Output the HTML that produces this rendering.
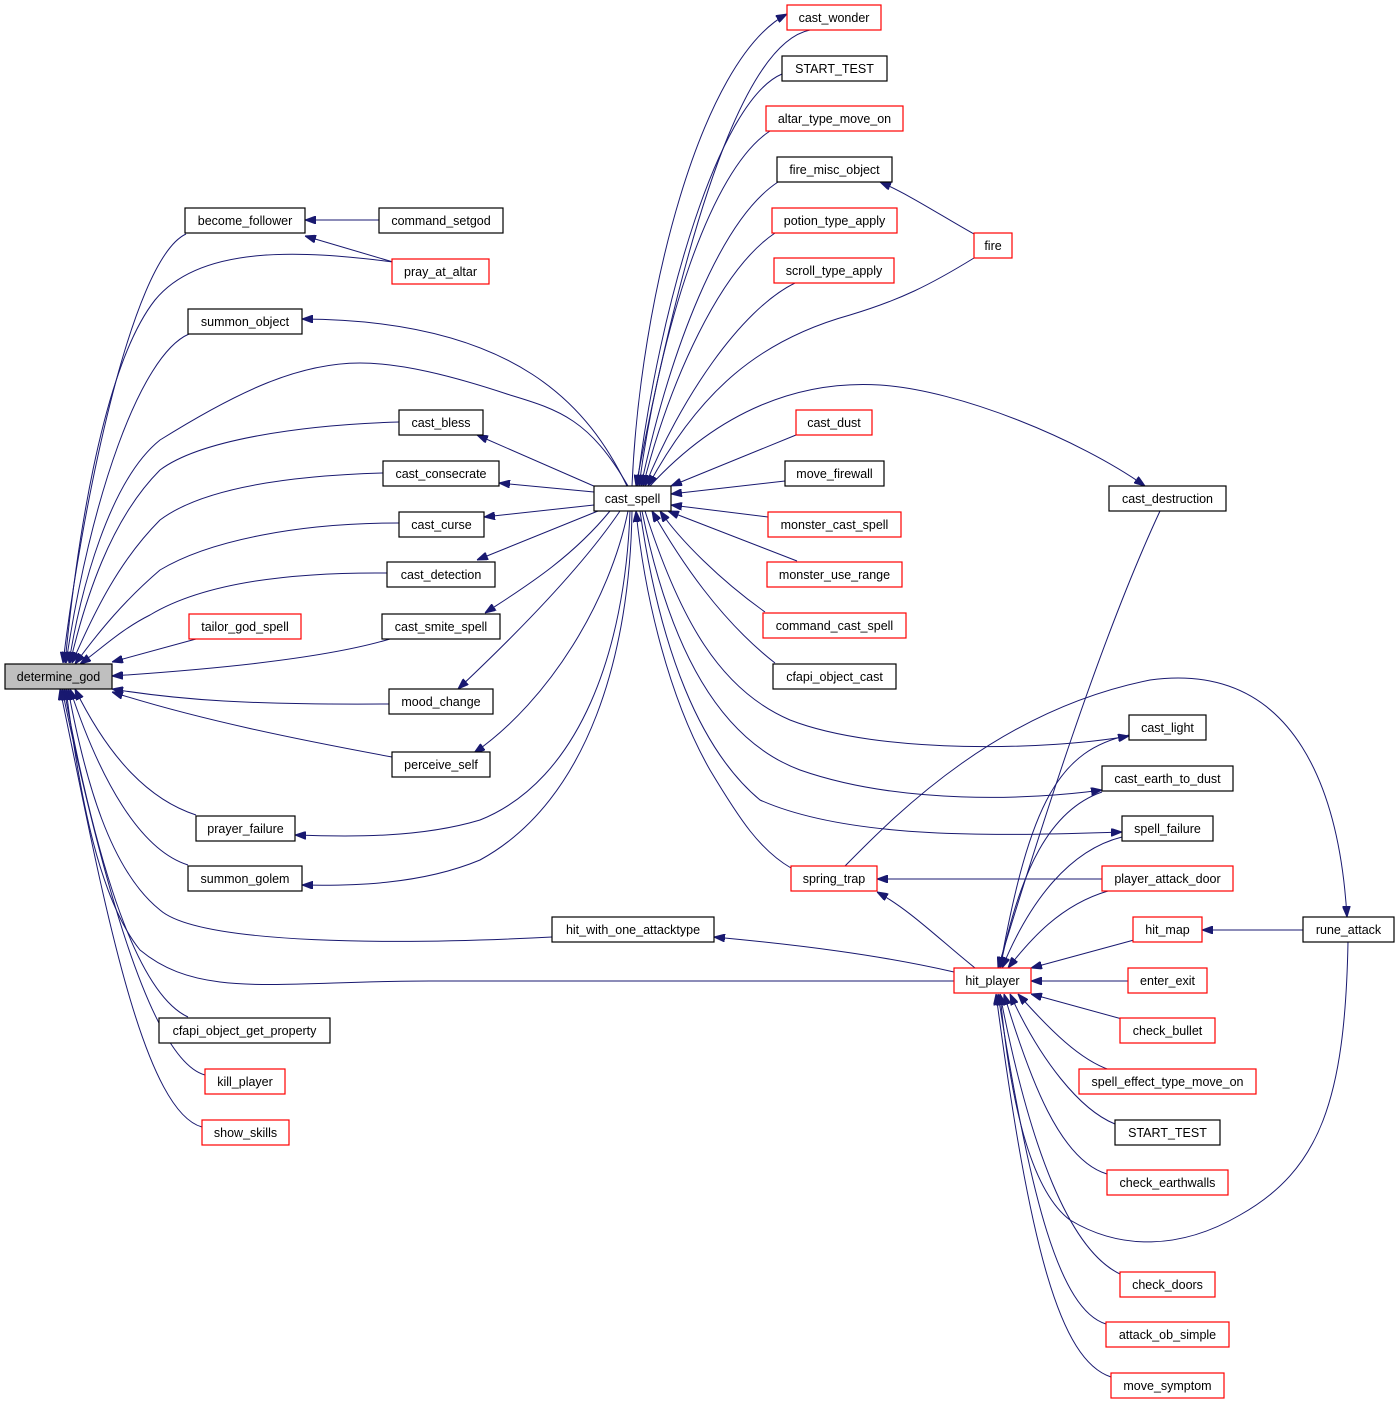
<!DOCTYPE html>
<html><head><meta charset="utf-8"><style>
html,body{margin:0;padding:0;background:#fff;}
svg{display:block;}
text{font-family:"Liberation Sans",sans-serif;font-size:12.5px;fill:#000;}
.e{fill:none;stroke:#191970;stroke-width:1;marker-end:url(#a);}
.n{fill:#fff;stroke:#000;stroke-width:1.2;}
.r{fill:#fff;stroke:#ff0000;stroke-width:1.2;}
</style></head><body>
<svg width="1400" height="1405" viewBox="0 0 1400 1405" xmlns="http://www.w3.org/2000/svg">
<defs><marker id="a" markerWidth="11" markerHeight="8" refX="11" refY="4" orient="auto" markerUnits="userSpaceOnUse"><path d="M0,0 L11,4 L0,8 z" fill="#191970" stroke="#191970"/></marker></defs>
<g>
<path class="e" d="M186,234 C130,260 80,520 63,663"/>
<path class="e" d="M393,262 C300,250 200,245 155,300 C100,370 75,560 65,663"/>
<path class="e" d="M393,262 L305,236"/>
<path class="e" d="M379,220 L305,220"/>
<path class="e" d="M189,334 C140,355 90,500 66,663"/>
<path class="e" d="M628,486 C590,420 560,410 510,395 C450,375 400,363 360,363 C300,363 240,390 160,440 C110,480 80,590 69,663"/>
<path class="e" d="M399,422 C300,425 200,440 160,470 C110,520 85,600 70,663"/>
<path class="e" d="M383,473 C280,476 200,490 160,520 C120,560 95,610 72,663"/>
<path class="e" d="M399,523 C300,523 210,540 160,570 C125,600 100,630 75,664"/>
<path class="e" d="M387,573 C280,572 200,585 150,615 C120,630 100,650 80,664"/>
<path class="e" d="M196,639 L112,662"/>
<path class="e" d="M390,639 C320,660 200,670 112,676"/>
<path class="e" d="M389,704 C250,705 180,700 112,689"/>
<path class="e" d="M392,757 C300,740 200,720 112,692"/>
<path class="e" d="M196,815 C150,800 110,760 75,689"/>
<path class="e" d="M188,865 C140,850 100,780 70,689"/>
<path class="e" d="M552,937 C400,945 200,945 160,910 C110,870 85,780 68,689"/>
<path class="e" d="M954,981 C700,981 500,981 430,981 C280,981 200,1000 140,950 C100,900 80,800 66,689"/>
<path class="e" d="M188,1017 C130,990 90,830 64,689"/>
<path class="e" d="M205,1075 C150,1060 100,870 62,689"/>
<path class="e" d="M202,1127 C140,1110 100,880 60,689"/>

<path class="e" d="M627,486 C590,410 520,320 302,319"/>
<path class="e" d="M596,487 L477,435"/>
<path class="e" d="M594,492 L499,483"/>
<path class="e" d="M594,505 L484,517"/>
<path class="e" d="M598,511 L477,560"/>
<path class="e" d="M610,511 C570,560 520,590 485,613"/>
<path class="e" d="M620,511 C580,570 510,640 458,689"/>
<path class="e" d="M628,511 C610,600 550,700 474,753"/>
<path class="e" d="M630,511 C625,650 580,780 480,820 C420,838 350,837 295,835"/>
<path class="e" d="M632,511 C630,650 590,800 480,860 C420,885 350,886 302,885"/>

<path class="e" d="M810,30 C760,40 700,150 636,486"/>
<path class="e" d="M632,486 C640,300 700,60 787,14"/>
<path class="e" d="M782,74 C720,100 660,300 637,486"/>
<path class="e" d="M770,131 C710,170 660,330 639,486"/>
<path class="e" d="M778,182 C720,220 670,350 641,486"/>
<path class="e" d="M775,233 C720,270 670,380 643,486"/>
<path class="e" d="M795,283 C740,310 680,400 645,486"/>
<path class="e" d="M974,258 C930,285 900,300 850,315 C760,340 700,390 648,486"/>
<path class="e" d="M974,234 C940,215 910,195 880,182"/>
<path class="e" d="M650,486 C720,410 800,380 880,385 C960,390 1080,440 1145,486"/>
<path class="e" d="M1160,511 C1100,640 1040,830 998,968"/>
<path class="e" d="M796,435 L671,486"/>
<path class="e" d="M785,481 L671,494"/>
<path class="e" d="M768,517 L671,505"/>
<path class="e" d="M797,561 L668,511"/>
<path class="e" d="M765,612 C720,580 680,540 660,511"/>
<path class="e" d="M775,663 C720,620 680,560 652,511"/>
<path class="e" d="M645,511 C680,620 720,690 790,720 C880,755 1050,750 1129,736"/>
<path class="e" d="M1129,735 C1060,750 1030,800 1000,968"/>
<path class="e" d="M642,511 C670,650 720,740 800,770 C900,805 1030,800 1102,790"/>
<path class="e" d="M1102,792 C1050,810 1020,870 1000,968"/>
<path class="e" d="M640,511 C660,650 700,750 760,800 C850,840 1000,836 1122,832"/>
<path class="e" d="M1122,837 C1070,850 1030,900 1002,968"/>
<path class="e" d="M791,868 C760,850 740,820 710,770 C670,700 645,600 636,511"/>
<path class="e" d="M845,866 C900,810 1000,710 1150,680 C1300,660 1340,800 1347,917"/>
<path class="e" d="M1102,879 L877,879"/>
<path class="e" d="M975,968 C940,940 910,910 877,892"/>
<path class="e" d="M954,972 C880,955 800,945 714,937"/>
<path class="e" d="M1108,891 C1060,905 1030,940 1008,968"/>
<path class="e" d="M1134,940 L1031,968"/>
<path class="e" d="M1303,930 L1202,930"/>
<path class="e" d="M1128,981 L1031,981"/>
<path class="e" d="M1122,1019 L1031,994"/>
<path class="e" d="M1110,1070 C1080,1060 1050,1030 1018,994"/>
<path class="e" d="M1115,1124 C1080,1110 1040,1060 1010,994"/>
<path class="e" d="M1107,1174 C1060,1160 1030,1080 1004,994"/>
<path class="e" d="M1348,942 C1345,1100 1320,1170 1240,1215 C1180,1250 1120,1250 1070,1220 C1030,1190 1010,1100 1000,994"/>
<path class="e" d="M1120,1274 C1070,1250 1030,1150 1000,994"/>
<path class="e" d="M1106,1324 C1060,1310 1030,1200 998,994"/>
<path class="e" d="M1111,1377 C1060,1360 1030,1250 996,994"/>
</g>
<g text-anchor="middle">
<rect x="5" y="664" width="107" height="25" fill="#bfbfbf" stroke="#000" stroke-width="1.2"/><text x="58.5" y="681">determine_god</text>
<rect class="n" x="185" y="208" width="120" height="25"/><text x="245" y="225">become_follower</text>
<rect class="n" x="379" y="208" width="124" height="25"/><text x="441" y="225">command_setgod</text>
<rect class="r" x="392" y="259" width="97" height="25"/><text x="440.5" y="276">pray_at_altar</text>
<rect class="n" x="188" y="309" width="114" height="25"/><text x="245" y="326">summon_object</text>
<rect class="n" x="399" y="410" width="84" height="25"/><text x="441" y="427">cast_bless</text>
<rect class="n" x="383" y="461" width="116" height="25"/><text x="441" y="478">cast_consecrate</text>
<rect class="n" x="399" y="512" width="85" height="25"/><text x="441.5" y="529">cast_curse</text>
<rect class="n" x="387" y="562" width="108" height="25"/><text x="441" y="579">cast_detection</text>
<rect class="r" x="189" y="614" width="112" height="25"/><text x="245" y="631">tailor_god_spell</text>
<rect class="n" x="382" y="614" width="118" height="25"/><text x="441" y="631">cast_smite_spell</text>
<rect class="n" x="389" y="689" width="104" height="25"/><text x="441" y="706">mood_change</text>
<rect class="n" x="392" y="752" width="98" height="25"/><text x="441" y="769">perceive_self</text>
<rect class="n" x="196" y="816" width="99" height="25"/><text x="245.5" y="833">prayer_failure</text>
<rect class="n" x="188" y="866" width="114" height="25"/><text x="245" y="883">summon_golem</text>
<rect class="n" x="552" y="917" width="162" height="25"/><text x="633" y="934">hit_with_one_attacktype</text>
<rect class="n" x="159" y="1018" width="171" height="25"/><text x="244.5" y="1035">cfapi_object_get_property</text>
<rect class="r" x="205" y="1069" width="80" height="25"/><text x="245" y="1086">kill_player</text>
<rect class="r" x="202" y="1120" width="87" height="25"/><text x="245.5" y="1137">show_skills</text>
<rect class="n" x="594" y="486" width="77" height="25"/><text x="632.5" y="503">cast_spell</text>
<rect class="r" x="787" y="5" width="94" height="25"/><text x="834" y="22">cast_wonder</text>
<rect class="n" x="782" y="56" width="105" height="25"/><text x="834.5" y="73">START_TEST</text>
<rect class="r" x="766" y="106" width="137" height="25"/><text x="834.5" y="123">altar_type_move_on</text>
<rect class="n" x="777" y="157" width="115" height="25"/><text x="834.5" y="174">fire_misc_object</text>
<rect class="r" x="772" y="208" width="125" height="25"/><text x="834.5" y="225">potion_type_apply</text>
<rect class="r" x="774" y="258" width="120" height="25"/><text x="834" y="275">scroll_type_apply</text>
<rect class="r" x="796" y="410" width="76" height="25"/><text x="834" y="427">cast_dust</text>
<rect class="n" x="785" y="461" width="99" height="25"/><text x="834.5" y="478">move_firewall</text>
<rect class="r" x="768" y="512" width="133" height="25"/><text x="834.5" y="529">monster_cast_spell</text>
<rect class="r" x="767" y="562" width="135" height="25"/><text x="834.5" y="579">monster_use_range</text>
<rect class="r" x="763" y="613" width="143" height="25"/><text x="834.5" y="630">command_cast_spell</text>
<rect class="n" x="773" y="664" width="123" height="25"/><text x="834.5" y="681">cfapi_object_cast</text>
<rect class="r" x="791" y="866" width="86" height="25"/><text x="834" y="883">spring_trap</text>
<rect class="r" x="974" y="233" width="38" height="25"/><text x="993" y="250">fire</text>
<rect class="r" x="954" y="968" width="77" height="25"/><text x="992.5" y="985">hit_player</text>
<rect class="n" x="1109" y="486" width="117" height="25"/><text x="1167.5" y="503">cast_destruction</text>
<rect class="n" x="1129" y="715" width="77" height="25"/><text x="1167.5" y="732">cast_light</text>
<rect class="n" x="1102" y="766" width="131" height="25"/><text x="1167.5" y="783">cast_earth_to_dust</text>
<rect class="n" x="1122" y="816" width="91" height="25"/><text x="1167.5" y="833">spell_failure</text>
<rect class="r" x="1102" y="866" width="131" height="25"/><text x="1167.5" y="883">player_attack_door</text>
<rect class="r" x="1133" y="917" width="69" height="25"/><text x="1167.5" y="934">hit_map</text>
<rect class="r" x="1128" y="968" width="79" height="25"/><text x="1167.5" y="985">enter_exit</text>
<rect class="r" x="1120" y="1018" width="95" height="25"/><text x="1167.5" y="1035">check_bullet</text>
<rect class="r" x="1079" y="1069" width="177" height="25"/><text x="1167.5" y="1086">spell_effect_type_move_on</text>
<rect class="n" x="1115" y="1120" width="105" height="25"/><text x="1167.5" y="1137">START_TEST</text>
<rect class="r" x="1107" y="1170" width="121" height="25"/><text x="1167.5" y="1187">check_earthwalls</text>
<rect class="r" x="1120" y="1272" width="95" height="25"/><text x="1167.5" y="1289">check_doors</text>
<rect class="r" x="1106" y="1322" width="123" height="25"/><text x="1167.5" y="1339">attack_ob_simple</text>
<rect class="r" x="1111" y="1373" width="113" height="25"/><text x="1167.5" y="1390">move_symptom</text>
<rect class="n" x="1303" y="917" width="91" height="25"/><text x="1348.5" y="934">rune_attack</text>
</g>
</svg>
</body></html>
